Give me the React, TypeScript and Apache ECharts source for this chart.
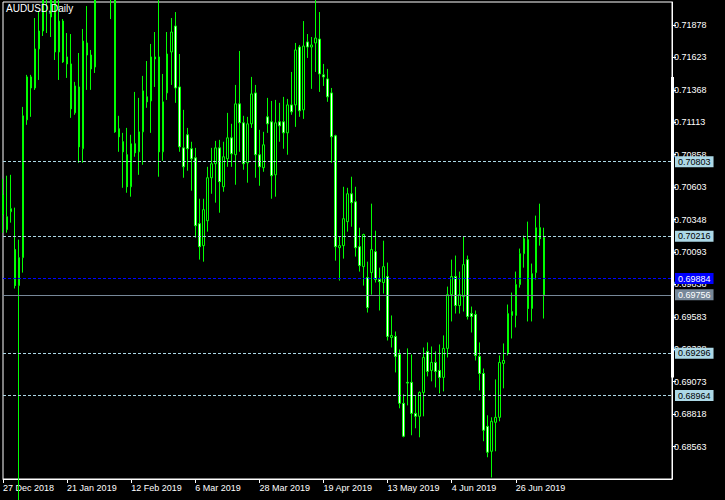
import React, { useEffect, useRef } from 'react';
import * as echarts from 'echarts';

const SYMBOL_TITLE = 'AUDUSD,Daily';

const opens = [
  0.70543, 0.70269, 0.70410, 0.70112, 0.69829, 0.70049, 0.71132, 0.71470, 0.71383, 0.71690,
  0.71831, 0.72120, 0.71941, 0.72150, 0.71666, 0.71909, 0.71627, 0.71572, 0.71187, 0.71391,
  0.70905, 0.71737, 0.71642, 0.71548, 0.72360, 0.72680, 0.72400, 0.72330, 0.72460, 0.71062,
  0.70960, 0.70858, 0.70606, 0.70944, 0.70881, 0.71038, 0.71313, 0.71281, 0.71627, 0.71627,
  0.70881, 0.71344, 0.71666, 0.71870, 0.71391, 0.70912, 0.71015, 0.70905, 0.70834, 0.70316,
  0.70143, 0.70339, 0.70677, 0.70787, 0.70912, 0.70606, 0.70826, 0.70991, 0.70858, 0.71258,
  0.71109, 0.70795, 0.71101, 0.71344, 0.70858, 0.70756, 0.71156, 0.71117, 0.70700, 0.71117,
  0.71117, 0.71030, 0.71250, 0.71250, 0.71705, 0.71211, 0.71745, 0.71705, 0.71737, 0.71768,
  0.71486, 0.71454, 0.71344, 0.71007, 0.70127, 0.70143, 0.70332, 0.70551, 0.70488, 0.70135,
  0.69978, 0.69892, 0.69931, 0.70096, 0.69876, 0.69853, 0.69900, 0.69421, 0.69429, 0.69287,
  0.68903, 0.69068, 0.69068, 0.68824, 0.68801, 0.68989, 0.69311, 0.69162, 0.69225, 0.69162,
  0.69107, 0.69335, 0.69758, 0.69900, 0.69672, 0.69743, 0.70033, 0.69609, 0.69602, 0.69272,
  0.69138, 0.68722, 0.68526, 0.68754, 0.68793, 0.69217, 0.69295, 0.69594, 0.69594, 0.69837,
  0.70080, 0.70190, 0.69649, 0.69931, 0.70284, 0.70206,
];

const closes = [
  0.70387, 0.70371, 0.70434, 0.69829, 0.70049, 0.71164, 0.71470, 0.71383, 0.71690, 0.71831,
  0.72120, 0.72200, 0.72150, 0.71666, 0.71909, 0.71588, 0.71572, 0.71219, 0.71399, 0.70920,
  0.71752, 0.71642, 0.71533, 0.72360, 0.72680, 0.72400, 0.72330, 0.72460, 0.71038, 0.70999,
  0.70881, 0.70606, 0.70944, 0.70873, 0.71038, 0.71360, 0.71274, 0.71627, 0.71611, 0.70881,
  0.71274, 0.71650, 0.71823, 0.71383, 0.70920, 0.70763, 0.70905, 0.70826, 0.70300, 0.70135,
  0.70426, 0.70677, 0.70787, 0.70912, 0.70646, 0.70842, 0.70991, 0.70865, 0.71258, 0.71109,
  0.70787, 0.71101, 0.71336, 0.70858, 0.70763, 0.70936, 0.71101, 0.70693, 0.71109, 0.71085,
  0.71030, 0.71250, 0.71195, 0.71682, 0.71203, 0.71713, 0.71705, 0.71721, 0.71776, 0.71493,
  0.71470, 0.71313, 0.70999, 0.70135, 0.70143, 0.70355, 0.70551, 0.70481, 0.70127, 0.69986,
  0.70230, 0.69656, 0.70112, 0.69876, 0.69860, 0.69978, 0.69429, 0.69437, 0.69272, 0.68903,
  0.68644, 0.69062, 0.68824, 0.68801, 0.68989, 0.69264, 0.69154, 0.69225, 0.69154, 0.69107,
  0.69335, 0.69758, 0.69900, 0.69672, 0.69758, 0.69994, 0.69586, 0.69586, 0.69280, 0.69138,
  0.68691, 0.68518, 0.68762, 0.68793, 0.69225, 0.69240, 0.69609, 0.69625, 0.69837, 0.70080,
  0.70198, 0.69649, 0.69923, 0.70284, 0.70198, 0.69756,
];

const lows = [
  0.70245, 0.70245, 0.70324, 0.69806, 0.67400, 0.69931, 0.71093, 0.71156, 0.71368, 0.71446,
  0.71792, 0.71815, 0.71784, 0.71603, 0.71446, 0.71580, 0.71462, 0.71148, 0.71172, 0.70795,
  0.70795, 0.71368, 0.71368, 0.71501, 0.72200, 0.72250, 0.72150, 0.71925, 0.71030, 0.70881,
  0.70598, 0.70559, 0.70528, 0.70842, 0.70700, 0.70779, 0.71227, 0.71030, 0.71391, 0.70685,
  0.70810, 0.71289, 0.71407, 0.71266, 0.70881, 0.70677, 0.70732, 0.70575, 0.70206, 0.70033,
  0.70017, 0.70253, 0.70551, 0.70481, 0.70402, 0.70567, 0.70763, 0.70763, 0.70622, 0.70881,
  0.70740, 0.70638, 0.71069, 0.70677, 0.70614, 0.70724, 0.71030, 0.70512, 0.70528, 0.70960,
  0.70905, 0.70858, 0.71172, 0.71077, 0.71156, 0.71140, 0.71619, 0.71376, 0.71509, 0.71352,
  0.71399, 0.71274, 0.70795, 0.70025, 0.69868, 0.70041, 0.70253, 0.70292, 0.70057, 0.69939,
  0.69829, 0.69617, 0.69758, 0.69853, 0.69633, 0.69766, 0.69397, 0.69342, 0.69146, 0.68864,
  0.68636, 0.68887, 0.68652, 0.68707, 0.68636, 0.68801, 0.69115, 0.69076, 0.69028, 0.68981,
  0.68997, 0.69264, 0.69547, 0.69609, 0.69609, 0.69625, 0.69562, 0.69460, 0.69240, 0.69005,
  0.68605, 0.68479, 0.68320, 0.68526, 0.68762, 0.69021, 0.69280, 0.69413, 0.69500, 0.69813,
  0.69970, 0.69547, 0.69547, 0.69876, 0.70143, 0.69570,
];

const highs = [
  0.70669, 0.70693, 0.70700, 0.70442, 0.70190, 0.71234, 0.71486, 0.71486, 0.71933, 0.71980,
  0.72250, 0.72350, 0.72300, 0.72250, 0.72120, 0.71925, 0.71815, 0.71807, 0.71431, 0.71658,
  0.71847, 0.72027, 0.71682, 0.72400, 0.72960, 0.72750, 0.72550, 0.72600, 0.72500, 0.71164,
  0.71030, 0.71069, 0.71015, 0.71352, 0.71305, 0.71478, 0.71595, 0.71729, 0.71823, 0.72100,
  0.71493, 0.71823, 0.71933, 0.71980, 0.71650, 0.71211, 0.71069, 0.70960, 0.70912, 0.70512,
  0.70512, 0.70763, 0.70912, 0.70967, 0.70975, 0.70960, 0.71187, 0.71101, 0.71407, 0.71674,
  0.71164, 0.71156, 0.71470, 0.71407, 0.71054, 0.71038, 0.71305, 0.71281, 0.71289, 0.71266,
  0.71313, 0.71297, 0.71509, 0.71737, 0.71721, 0.71909, 0.71807, 0.71784, 0.72080, 0.71980,
  0.71572, 0.71533, 0.71383, 0.71015, 0.70214, 0.70606, 0.70598, 0.70685, 0.70606, 0.70284,
  0.70237, 0.70017, 0.70473, 0.70261, 0.69970, 0.70182, 0.70010, 0.69594, 0.69468, 0.69327,
  0.68974, 0.69335, 0.69287, 0.68966, 0.68997, 0.69342, 0.69382, 0.69350, 0.69311, 0.69366,
  0.69437, 0.69821, 0.70033, 0.70065, 0.69939, 0.70214, 0.70065, 0.69664, 0.69633, 0.69382,
  0.69177, 0.68809, 0.68793, 0.69091, 0.69280, 0.69374, 0.69680, 0.69774, 0.69939, 0.70120,
  0.70222, 0.70332, 0.70002, 0.70379, 0.70473, 0.70284,
];

// horizontal price levels (dashed light blue), ask (blue dashed), bid (grey solid)
const levelPrices = [0.70803, 0.70216, 0.69296, 0.68964];
const askPrice = 0.69884;
const bidPrice = 0.69756;

// price axis
const yMin = 0.68308;
const yMax = 0.72059;
const yStep = 0.00255;

// thick white segment on the price scale (price range)
const scaleSegment = [0.71470, 0.69107];

// calendar of the daily bars
const firstDay = [2018, 11, 27];
const skippedDays = ['2019-01-01'];
const emptySlots = 32;
const labelEvery = 16;
const MONTHS = ['Jan', 'Feb', 'Mar', 'Apr', 'May', 'Jun', 'Jul', 'Aug', 'Sep', 'Oct', 'Nov', 'Dec'];

function buildCategories(count: number): string[] {
  const out: string[] = [];
  const d = new Date(Date.UTC(firstDay[0], firstDay[1], firstDay[2]));
  while (out.length < count) {
    const wd = d.getUTCDay();
    const iso = d.toISOString().slice(0, 10);
    if (wd !== 0 && wd !== 6 && skippedDays.indexOf(iso) < 0) {
      out.push(`${d.getUTCDate()} ${MONTHS[d.getUTCMonth()]} ${d.getUTCFullYear()}`);
    }
    d.setUTCDate(d.getUTCDate() + 1);
  }
  return out;
}

function hasFont(name: string): boolean {
  try {
    const ctx = document.createElement('canvas').getContext('2d');
    if (!ctx) return false;
    const s = 'AUDUSD 0.71878 27 Dec 2018';
    ctx.font = '20px monospace';
    const a = ctx.measureText(s).width;
    ctx.font = `20px "${name}", monospace`;
    const b = ctx.measureText(s).width;
    return Math.abs(a - b) > 0.5;
  } catch (e) {
    return false;
  }
}

export default function App() {
  const ref = useRef<HTMLDivElement>(null);

  useEffect(() => {
    document.body.style.margin = '0';
    const el = ref.current;
    if (!el) return;
    const narrow = hasFont('Liberation Sans Narrow');
    const ff = narrow ? "'Liberation Sans Narrow'" : "'Liberation Sans', Arial, sans-serif";
    const fs = narrow ? 11 : 9;
    const titleFs = narrow ? 12 : 10;

    const dates = buildCategories(opens.length);
    const categories = dates.concat(new Array(emptySlots).fill(''));
    const n = opens.length;
    const candles = opens.map((o, i) => [o, closes[i], lows[i], highs[i]]);

    const lineLabel = (price: number, bg: string, fg: string) => ({
      show: true,
      position: 'end',
      distance: 3,
      formatter: price.toFixed(5),
      backgroundColor: bg,
      color: fg,
      padding: [1, 3, 0, 3],
      lineHeight: 10,
      fontSize: fs,
      fontFamily: ff,
    });

    const markData: any[] = levelPrices.map((p) => ({
      yAxis: p,
      lineStyle: { color: '#ADD8E6', type: [3, 2], width: 1 },
      label: lineLabel(p, '#ADD8E6', '#000'),
    }));
    markData.push({
      yAxis: askPrice,
      lineStyle: { color: '#0000FF', type: [3, 2], width: 1 },
      label: lineLabel(askPrice, '#0000FF', '#fff'),
    });
    markData.push({
      yAxis: bidPrice,
      lineStyle: { color: '#778899', type: 'solid', width: 1 },
      label: lineLabel(bidPrice, '#778899', '#fff'),
    });

    const showIdx = (i: number) => i % labelEvery === 0 && i < n;

    const chart = echarts.init(el, undefined, { renderer: 'svg' });
    chart.setOption({
      animation: false,
      backgroundColor: '#000',
      title: {
        text: SYMBOL_TITLE,
        left: 6,
        top: 3,
        padding: 0,
        textStyle: { color: '#fff', fontSize: titleFs, fontWeight: 'normal', fontFamily: ff },
      },
      grid: {
        left: 2,
        right: 53,
        top: 2,
        bottom: 21,
        show: true,
        borderColor: '#fff',
        borderWidth: 1,
        backgroundColor: 'transparent',
      },
      xAxis: {
        type: 'category',
        data: categories,
        boundaryGap: false,
        axisLine: { show: true, lineStyle: { color: '#fff', width: 1 } },
        axisTick: { show: true, interval: (i: number) => showIdx(i), length: 4, lineStyle: { color: '#fff' } },
        axisLabel: {
          show: true,
          interval: (i: number) => showIdx(i),
          color: '#fff',
          fontSize: fs,
          fontFamily: ff,
          align: 'left',
          margin: 4,
        },
        splitLine: { show: false },
      },
      yAxis: {
        type: 'value',
        position: 'right',
        min: yMin,
        max: yMax,
        interval: yStep,
        axisLine: { show: true, lineStyle: { color: '#fff', width: 1 } },
        axisTick: { show: true, length: 4, lineStyle: { color: '#fff' } },
        axisLabel: {
          show: true,
          color: '#fff',
          fontSize: fs,
          fontFamily: ff,
          margin: 2,
          showMinLabel: false,
          showMaxLabel: false,
          formatter: (v: number) => v.toFixed(5),
        },
        splitLine: { show: false },
      },
      series: [
        {
          type: 'candlestick',
          data: candles,
          barWidth: 2,
          clip: true,
          itemStyle: {
            color: '#000000',
            color0: '#ffffff',
            borderColor: '#00ff00',
            borderColor0: '#00ff00',
            borderWidth: 1,
          },
          markLine: {
            silent: true,
            symbol: ['none', 'none'],
            animation: false,
            precision: 5,
            data: markData,
          },
        },
      ],
    });

    const y1 = chart.convertToPixel({ yAxisIndex: 0 }, scaleSegment[0]) as number;
    const y2 = chart.convertToPixel({ yAxisIndex: 0 }, scaleSegment[1]) as number;
    chart.setOption({
      graphic: [
        {
          type: 'rect',
          z: 100,
          shape: { x: 671, y: y1, width: 3, height: y2 - y1 },
          style: { fill: '#ffffff' },
        },
      ],
    });

    return () => chart.dispose();
  }, []);

  return (
    <div
      ref={ref}
      style={{ position: 'absolute', left: 0, top: 0, width: 725, height: 500, background: '#000' }}
    />
  );
}
